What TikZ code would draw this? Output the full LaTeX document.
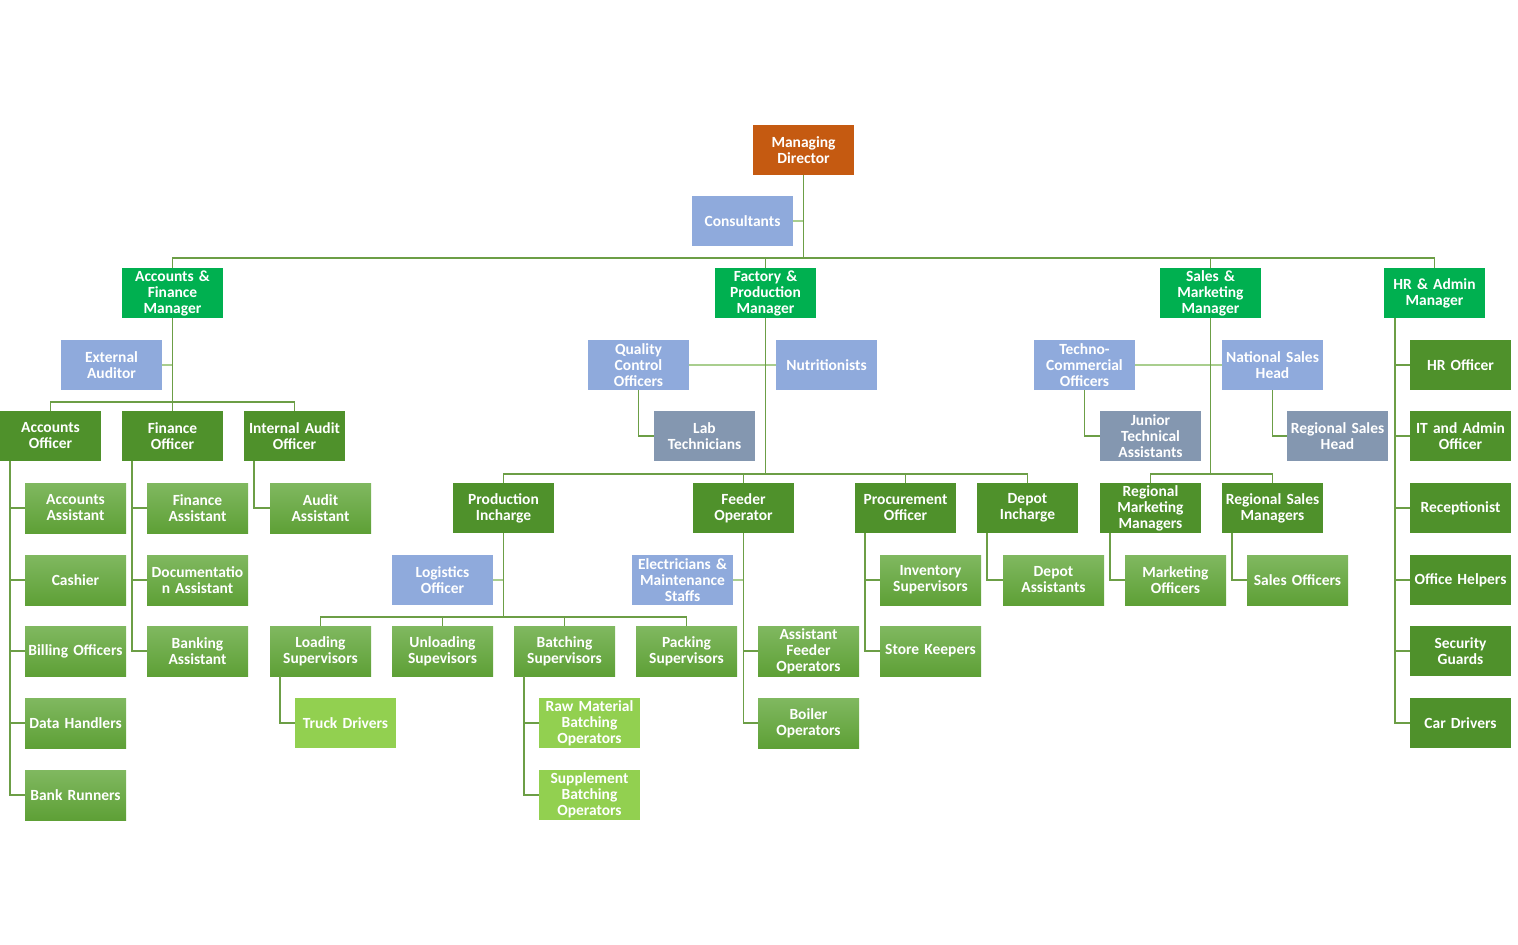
\documentclass[tikz,border=0pt]{standalone}
\usepackage{fontspec}
\setmainfont{Carlito}
\definecolor{mdorange}{HTML}{C55A11}
\definecolor{mgrgreen}{HTML}{00B050}
\definecolor{subgreen}{HTML}{4F912B}
\definecolor{leaftop}{HTML}{80B860}
\definecolor{leafbot}{HTML}{5EA036}
\definecolor{limegreen}{HTML}{92D050}
\definecolor{asstblue}{HTML}{8FAADC}
\definecolor{grayblue}{HTML}{8497B0}
\definecolor{darkline}{RGB}{108,158,70}
\definecolor{lightline}{RGB}{169,206,142}
\newcommand{\boxfont}{\fontsize{15.5}{16}\selectfont\bfseries\spaceskip=0.16em plus 0.05em minus 0.05em\relax}
\tikzset{
  box/.style={rectangle, minimum width=101pt, minimum height=50pt, inner xsep=-3pt, inner ysep=0pt,
    text width=107pt, align=center, text=white, font=\boxfont},
  mdbox/.style={box, fill=mdorange},
  mgr/.style={box, fill=mgrgreen},
  sub/.style={box, fill=subgreen},
  leaf/.style={box, top color=leaftop, bottom color=leafbot},
  lime/.style={box, fill=limegreen},
  asst/.style={box, fill=asstblue},
  gasst/.style={box, fill=grayblue},
  dc/.style={draw=darkline, line width=1.6pt},
  lc/.style={draw=lightline, line width=1.6pt},
}
\begin{document}
\begin{tikzpicture}[x=1pt,y=-1pt]
\useasboundingbox (0,0) rectangle (1518,945);
% coordinates for bars
\coordinate (b0) at (0,258);
\coordinate (b1) at (0,402);
\coordinate (b2) at (0,474);
\coordinate (b3) at (0,617);

% Top
\node[mdbox] (md) at (803.5,150) {Managing\\Director};
\node[asst] (cons) at (742.5,221) {Consultants};
\node[mgr] (afm) at (172.5,293) {Accounts \&\\Finance\\Manager};
\node[mgr] (fpm) at (765.5,293) {Factory \&\\Production\\Manager};
\node[mgr] (smm) at (1210.5,293) {Sales \&\\Marketing\\Manager};
\node[mgr] (ham) at (1434.5,293) {HR \& Admin\\Manager};

% Accounts branch
\node[asst] (ea) at (111.5,365) {External\\Auditor};
\node[sub] (ao) at (50.5,436) {Accounts\\Officer};
\node[sub] (fo) at (172.5,436) {Finance\\Officer};
\node[sub] (iao) at (294.5,436) {Internal Audit\\Officer};
\node[leaf] (aa) at (75.5,508) {Accounts\\Assistant};
\node[leaf] (cash) at (75.5,580) {Cashier};
\node[leaf] (bill) at (75.5,651) {Billing Officers};
\node[leaf] (dh) at (75.5,723) {Data Handlers};
\node[leaf] (br) at (75.5,795) {Bank Runners};
\node[leaf] (fa) at (197.5,508) {Finance\\Assistant};
\node[leaf] (doc) at (197.5,580) {Documentatio\\n Assistant};
\node[leaf] (ba) at (197.5,651) {Banking\\Assistant};
\node[leaf] (auda) at (320.5,508) {Audit\\Assistant};

% Factory branch
\node[asst] (qc) at (638.5,365) {Quality\\Control\\Officers};
\node[asst] (nut) at (826.5,365) {Nutritionists};
\node[gasst] (lab) at (704.5,436) {Lab\\Technicians};
\node[sub] (pi) at (503.5,508) {Production\\Incharge};
\node[sub] (feo) at (743.5,508) {Feeder\\Operator};
\node[sub] (po) at (905.5,508) {Procurement\\Officer};
\node[sub] (di) at (1027.5,508) {Depot\\Incharge};
\node[asst] (log) at (442.5,580) {Logistics\\Officer};
\node[asst] (elec) at (682.5,580) {Electricians \&\\Maintenance\\Staffs};
\node[leaf] (ls) at (320.5,651) {Loading\\Supervisors};
\node[leaf] (us) at (442.5,651) {Unloading\\Supevisors};
\node[leaf] (bs) at (564.5,651) {Batching\\Supervisors};
\node[leaf] (ps) at (686.5,651) {Packing\\Supervisors};
\node[lime] (td) at (345.5,723) {Truck Drivers};
\node[lime] (rm) at (589.5,723) {Raw Material\\Batching\\Operators};
\node[lime] (sb) at (589.5,795) {Supplement\\Batching\\Operators};
\node[leaf] (afo) at (808.5,651) {Assistant\\Feeder\\Operators};
\node[leaf] (bo) at (808.5,723) {Boiler\\Operators};
\node[leaf] (inv) at (930.5,580) {Inventory\\Supervisors};
\node[leaf] (sk) at (930.5,651) {Store Keepers};
\node[leaf] (da) at (1053.5,580) {Depot\\Assistants};

% Sales branch
\node[asst] (tc) at (1084.5,365) {Techno-\\Commercial\\Officers};
\node[asst] (nsh) at (1272.5,365) {National Sales\\Head};
\node[gasst] (jta) at (1150.5,436) {Junior\\Technical\\Assistants};
\node[gasst] (rsh) at (1337.5,436) {Regional Sales\\Head};
\node[sub] (rmm) at (1150.5,508) {Regional\\Marketing\\Managers};
\node[sub] (rsm) at (1272.5,508) {Regional Sales\\Managers};
\node[leaf] (mo) at (1175.5,580) {Marketing\\Officers};
\node[leaf] (so) at (1297.5,580) {Sales Officers};

% HR branch
\node[sub] (hro) at (1460.5,365) {HR Officer};
\node[sub] (ito) at (1460.5,436) {IT and Admin\\Officer};
\node[sub] (rec) at (1460.5,508) {Receptionist};
\node[sub] (oh) at (1460.5,580) {Office Helpers};
\node[sub] (sg) at (1460.5,651) {Security\\Guards};
\node[sub] (cd) at (1460.5,723) {Car Drivers};

% ---- connectors ----
% MD
\draw[lc] (md.south) |- (cons.east);
\draw[dc] (md.south) -- (md.south|-b0);
\foreach \m in {afm,fpm,smm,ham} \draw[dc] (md.south|-b0) -| (\m.north);

% Accounts & Finance Manager
\draw[lc] (afm.south) |- (ea.east);
\draw[dc] (afm.south) -- (afm.south|-b1);
\foreach \m in {ao,fo,iao} \draw[dc] (afm.south|-b1) -| (\m.north);
\foreach \m in {aa,cash,bill,dh,br} \draw[dc] ([xshift=10pt]ao.south west) |- (\m.west);
\foreach \m in {fa,doc,ba} \draw[dc] ([xshift=10pt]fo.south west) |- (\m.west);
\draw[dc] ([xshift=10pt]iao.south west) |- (auda.west);

% Factory & Production Manager
\draw[lc] (fpm.south) |- (qc.east);
\draw[lc] (fpm.south) |- (nut.west);
\draw[dc] (qc.south) |- (lab.west);
\draw[dc] (fpm.south) -- (fpm.south|-b2);
\foreach \m in {pi,feo,po,di} \draw[dc] (fpm.south|-b2) -| (\m.north);
\draw[lc] (pi.south) |- (log.east);
\draw[dc] (pi.south) -- (pi.south|-b3);
\foreach \m in {ls,us,bs,ps} \draw[dc] (pi.south|-b3) -| (\m.north);
\draw[dc] ([xshift=10pt]ls.south west) |- (td.west);
\foreach \m in {rm,sb} \draw[dc] ([xshift=10pt]bs.south west) |- (\m.west);
\draw[lc] (feo.south) |- (elec.east);
\foreach \m in {afo,bo} \draw[dc] (feo.south) |- (\m.west);
\foreach \m in {inv,sk} \draw[dc] ([xshift=10pt]po.south west) |- (\m.west);
\draw[dc] ([xshift=10pt]di.south west) |- (da.west);

% Sales & Marketing Manager
\draw[lc] (smm.south) |- (tc.east);
\draw[lc] (smm.south) |- (nsh.west);
\draw[dc] (tc.south) |- (jta.west);
\draw[dc] (nsh.south) |- (rsh.west);
\draw[dc] (smm.south) -- (smm.south|-b2);
\foreach \m in {rmm,rsm} \draw[dc] (smm.south|-b2) -| (\m.north);
\draw[dc] ([xshift=10pt]rmm.south west) |- (mo.west);
\draw[dc] ([xshift=10pt]rsm.south west) |- (so.west);

% HR & Admin Manager
\foreach \m in {hro,ito,rec,oh,sg,cd} \draw[dc] ([xshift=11pt]ham.south west) |- (\m.west);
\end{tikzpicture}
\end{document}
